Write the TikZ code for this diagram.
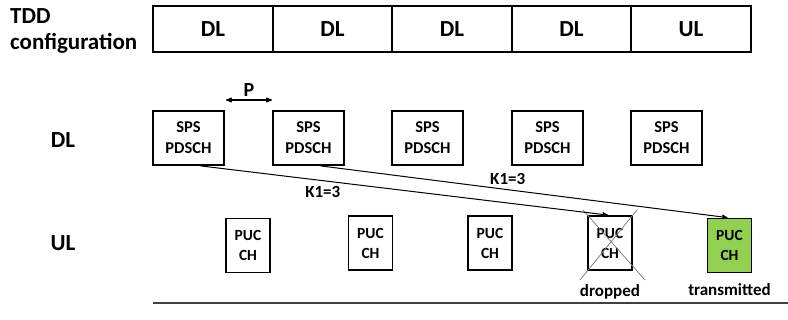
\documentclass[tikz,border=0pt]{standalone}
\usepackage{fontspec}
\setmainfont{Carlito}
\usetikzlibrary{
	arrows,
	positioning
}
\definecolor{ulgreen}{HTML}{92D050}
\tikzset{
%Define standard arrow tip
>=stealth',
%Define style for TDD slots
slot/.style={
	rectangle,
	draw=black, line width=1.8pt,
	outer sep=0pt,
	minimum width=119.5pt,
	minimum height=46pt,
	font=\bfseries\fontsize{23}{24}\selectfont},
%Define style for SPS boxes
spsbox/.style={
	rectangle,
	draw=black, line width=1.8pt,
	minimum width=71pt,
	minimum height=54pt,
	inner sep=0pt,
	align=center,
	font=\bfseries\fontsize{16.5}{21}\selectfont},
%Define style for PUCCH boxes
pucbox/.style={
	rectangle,
	draw=black, line width=1.8pt,
	minimum width=44pt,
	minimum height=54pt,
	inner sep=0pt,
	align=center,
	font=\bfseries\fontsize{15.5}{20}\selectfont},
%Define style for labels
lbl/.style={font=\bfseries\fontsize{23}{26}\selectfont},
small/.style={font=\bfseries\fontsize{17}{19}\selectfont},
% Define arrow style
pil/.style={
	->,
	line width=1pt},
lil/.style={
	<->,
	line width=1.1pt}
}
\begin{document}
\begin{tikzpicture}[x=1pt,y=-1pt]
				\useasboundingbox (0,0) rectangle (788,320);
				% TDD configuration
				\node[lbl, align=left, anchor=west, inner sep=0pt] (tdd) at (10,31) {TDD\\configuration};
				\node[slot] (s1) at (213,29) {DL};
				\node[slot, right=0pt of s1] (s2) {DL};
				\node[slot, right=0pt of s2] (s3) {DL};
				\node[slot, right=0pt of s3] (s4) {DL};
				\node[slot, right=0pt of s4] (s5) {UL};
				% DL row
				\node[lbl] (dl) at (63,140) {DL};
				\node[spsbox] (sps1) at (188.5,138) {SPS\\PDSCH};
				\node[spsbox] (sps2) at (308.5,138) {SPS\\PDSCH};
				\node[spsbox] (sps3) at (427.5,138) {SPS\\PDSCH};
				\node[spsbox] (sps4) at (547.5,138) {SPS\\PDSCH};
				\node[spsbox] (sps5) at (666.5,138) {SPS\\PDSCH};
				\coordinate (pl) at (226,100);
				\coordinate (pr) at (272,100);
				\draw[lil] (pl) -- node[small, above=0pt] (p) {\fontsize{20}{22}\selectfont P} (pr);
				% UL row
				\node[lbl] (ul) at (63,243) {UL};
				\node[pucbox] (puc1) at (248,245.5) {PUC\\CH};
				\node[pucbox] (puc2) at (370.5,243) {PUC\\CH};
				\node[pucbox] (puc3) at (490,243) {PUC\\CH};
				\node[pucbox] (puc4) at (610,243) {PUC\\CH};
				\node[pucbox, fill=ulgreen] (puc5) at (729.5,245.5) {PUC\\CH};
				\draw[gray, line width=0.8pt] (583,210) -- (645,280);
				\draw[gray, line width=0.8pt] (637,210) -- (580,280);
				\node[small, below=10pt of puc4] (drop) {dropped};
				\node[small, below=7pt of puc5] (tx) {transmitted};
				% K1 arrows
				\draw[pil] ([xshift=12pt]sps1.south) -- node[small, pos=0.3, below=2pt] (k1a) {K1=3} ([xshift=-2pt]puc4.north);
				\draw[pil] ([xshift=12pt]sps2.south) -- node[small, pos=0.46, above=1pt] (k1b) {K1=3} ([xshift=-2pt]puc5.north);
				\draw[black!75, line width=1.4pt] (153,303) -- (788,303);
			\end{tikzpicture}
\end{document}
